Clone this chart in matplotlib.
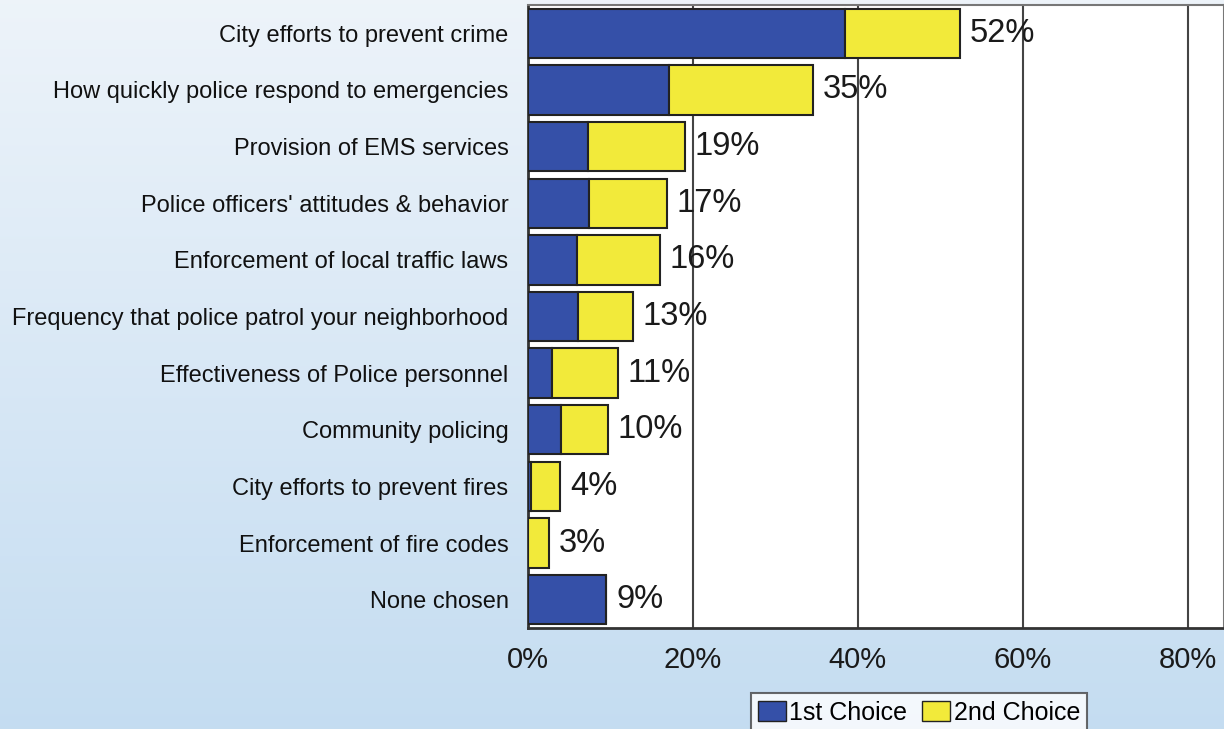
#! /usr/bin/env python3
"""
Stacked horizontal bar chart: 1st and 2nd choice of public safety services
"""

import numpy as np
import matplotlib.pyplot as plt
from matplotlib.patches import Patch

categories = [
    'City efforts to prevent crime',
    'How quickly police respond to emergencies',
    'Provision of EMS services',
    "Police officers' attitudes & behavior",
    'Enforcement of local traffic laws',
    'Frequency that police patrol your neighborhood',
    'Effectiveness of Police personnel',
    'Community policing',
    'City efforts to prevent fires',
    'Enforcement of fire codes',
    'None chosen',
]
first_choice = [38.5, 17.1, 7.3, 7.4, 5.9, 6.1, 2.9, 4.0, 0.4, 0.0, 9.5]
second_choice = [13.9, 17.4, 11.7, 9.4, 10.1, 6.6, 8.0, 5.7, 3.5, 2.5, 0.0]
total_labels = ['52%', '35%', '19%', '17%', '16%', '13%', '11%', '10%',
                '4%', '3%', '9%']
x_ticks = [0, 20, 40, 60, 80]


def main():
    plt.rcParams['font.family'] = ['Liberation Sans', 'DejaVu Sans']
    fig = plt.figure(figsize=(12.24, 7.29), dpi=100)

    # light blue gradient background
    bg = fig.add_axes([0, 0, 1, 1], zorder=-10)
    grad = np.linspace(0, 1, 256).reshape(-1, 1)
    top = np.array([0.93, 0.955, 0.98])
    bottom = np.array([0.77, 0.865, 0.945])
    img = top + (bottom - top) * grad[:, :, None]
    bg.imshow(img, aspect='auto', extent=[0, 1, 0, 1], origin='upper')
    bg.axis('off')

    ax = fig.add_axes([528 / 1224, 101 / 729, 1 - 528 / 1224, 623 / 729])
    ax.set_facecolor('white')
    y = np.arange(len(categories))
    blue = '#3550a8'
    yellow = '#f2ea3a'
    ax.barh(y, first_choice, height=0.87, color=blue,
            edgecolor='#222222', linewidth=1.5, zorder=3)
    ax.barh(y, second_choice, left=first_choice, height=0.87, color=yellow,
            edgecolor='#222222', linewidth=1.5, zorder=3)

    for yi, f, s, lab in zip(y, first_choice, second_choice, total_labels):
        ax.text(f + s + 1.2, yi, lab, va='center', ha='left',
                fontsize=23.5, color='#1a1a1a', zorder=4)

    ax.set_xlim(0, 84.4)
    ax.set_ylim(len(categories) - 0.5, -0.5)
    ax.set_xticks(x_ticks)
    ax.set_xticklabels([f'{t}%' for t in x_ticks], fontsize=21,
                       color='#1a1a1a')
    ax.set_yticks(y)
    ax.set_yticklabels(categories, fontsize=17, color='#111111')
    ax.tick_params(axis='y', length=0, pad=14)
    ax.tick_params(axis='x', length=0, pad=13)
    ax.grid(axis='x', color='#444444', linewidth=1.5, zorder=1)
    for side in ['top', 'right']:
        ax.spines[side].set_color('#777777')
        ax.spines[side].set_linewidth(1.5)
    for side in ['left', 'bottom']:
        ax.spines[side].set_color('#333333')
        ax.spines[side].set_linewidth(2)

    handles = [
        Patch(facecolor=blue, edgecolor='#222222', label='1st Choice'),
        Patch(facecolor=yellow, edgecolor='#222222', label='2nd Choice'),
    ]
    leg = fig.legend(handles=handles, loc='upper center',
                     bbox_to_anchor=(919 / 1224, 1 - 693 / 729), ncol=2,
                     fontsize=18, frameon=True, fancybox=False,
                     borderaxespad=0,
                     handlelength=1.1, handleheight=0.9, handletextpad=0.15,
                     columnspacing=0.6, borderpad=0.3)
    leg.get_frame().set_edgecolor('#444444')
    leg.get_frame().set_linewidth(1.5)

    fig.savefig('out.png', dpi=100)


if __name__ == '__main__':
    main()
